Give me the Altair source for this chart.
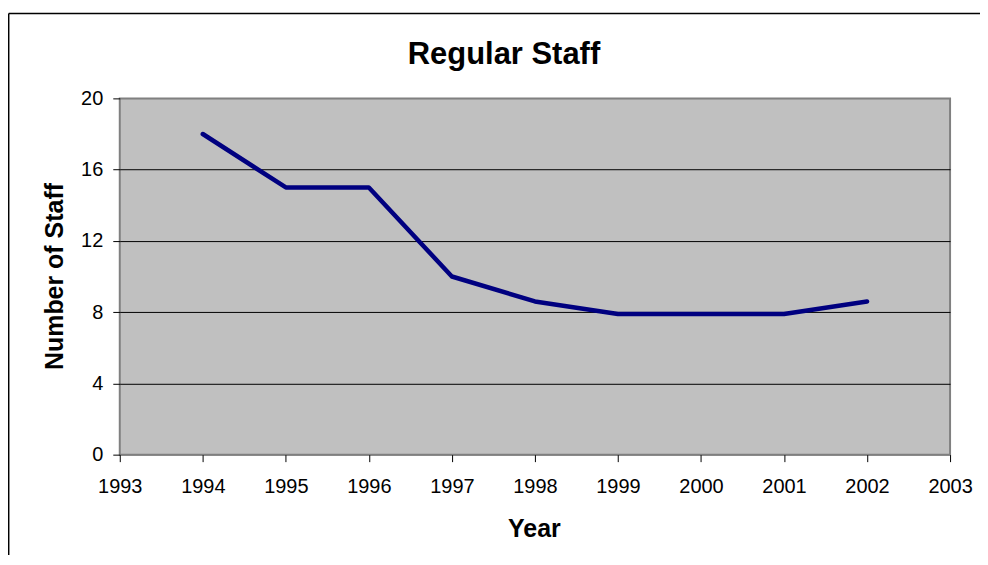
import altair as alt
import pandas as pd

# Data
years = [1994, 1995, 1996, 1997, 1998, 1999, 2000, 2001, 2002]
staff = [18, 15, 15, 10, 8.6, 7.9, 7.9, 7.9, 8.6]
x_ticks = list(range(1993, 2004))
y_ticks = [0, 4, 8, 12, 16, 20]
chart_title = "Regular Staff"

df = pd.DataFrame({"Year": years, "Staff": staff})
FONT = "Liberation Sans"

line = alt.Chart(df).mark_line(
    color="#000080", strokeWidth=4.5, strokeCap="round", strokeJoin="round"
).encode(
    x=alt.X(
        "Year:Q",
        scale=alt.Scale(domain=[1993, 2003], nice=False, zero=False),
        axis=alt.Axis(
            values=x_ticks, format="d", title="Year", grid=False,
            tickSize=7, tickColor="#000000", tickWidth=1,
            labelFont=FONT, labelFontSize=20, labelColor="black",
            labelBaseline="alphabetic", labelPadding=31,
            labelFlush=False, labelOverlap=False,
            titleFont=FONT, titleFontSize=25, titleFontWeight="bold", titleColor="black",
            titleBaseline="alphabetic", titleX=415, titleY=82,
            domain=False,
        ),
    ),
    y=alt.Y(
        "Staff:Q",
        scale=alt.Scale(domain=[0, 20], nice=False),
        axis=alt.Axis(
            values=y_ticks, title="Number of Staff", grid=True,
            gridColor=alt.condition("datum.value == 0 || datum.value == 20",
                                    alt.value("#808080"), alt.value("#000000")),
            gridWidth=1,
            tickSize=7, tickColor="#000000", tickWidth=1,
            labelFont=FONT, labelFontSize=20, labelColor="black", labelPadding=10,
            labelFlush=False,
            titleFont=FONT, titleFontSize=25, titleFontWeight="bold", titleColor="black",
            titleAngle=270, titleBaseline="alphabetic", titleX=-57, titleY=178,
            domain=False,
        ),
    ),
)

frame_df = pd.DataFrame({"k": [0]})
frame_left = alt.Chart(frame_df).mark_rule(color="black", strokeWidth=1.5).encode(
    x=alt.value(-111.3), y=alt.value(-85), y2=alt.value(470)
)
frame_top = alt.Chart(frame_df).mark_rule(color="black", strokeWidth=1.5).encode(
    x=alt.value(-111.3), x2=alt.value(880), y=alt.value(-85)
)
title_text = alt.Chart(frame_df).mark_text(
    text=chart_title, font=FONT, fontSize=31, fontWeight="bold", color="black",
    align="center", baseline="alphabetic",
).encode(x=alt.value(385), y=alt.value(-34))

chart = alt.layer(line, frame_left, frame_top, title_text).properties(
    width=832,
    height=357,
    autosize=alt.AutoSizeParams(type="none"),
    padding={"left": 112, "top": 90, "right": 30, "bottom": 100},
).configure(
    background="white"
).configure_view(
    fill="#C0C0C0", stroke="#808080", strokeWidth=2
)

chart.save("out.html", embed_options={"renderer": "svg", "actions": False})
